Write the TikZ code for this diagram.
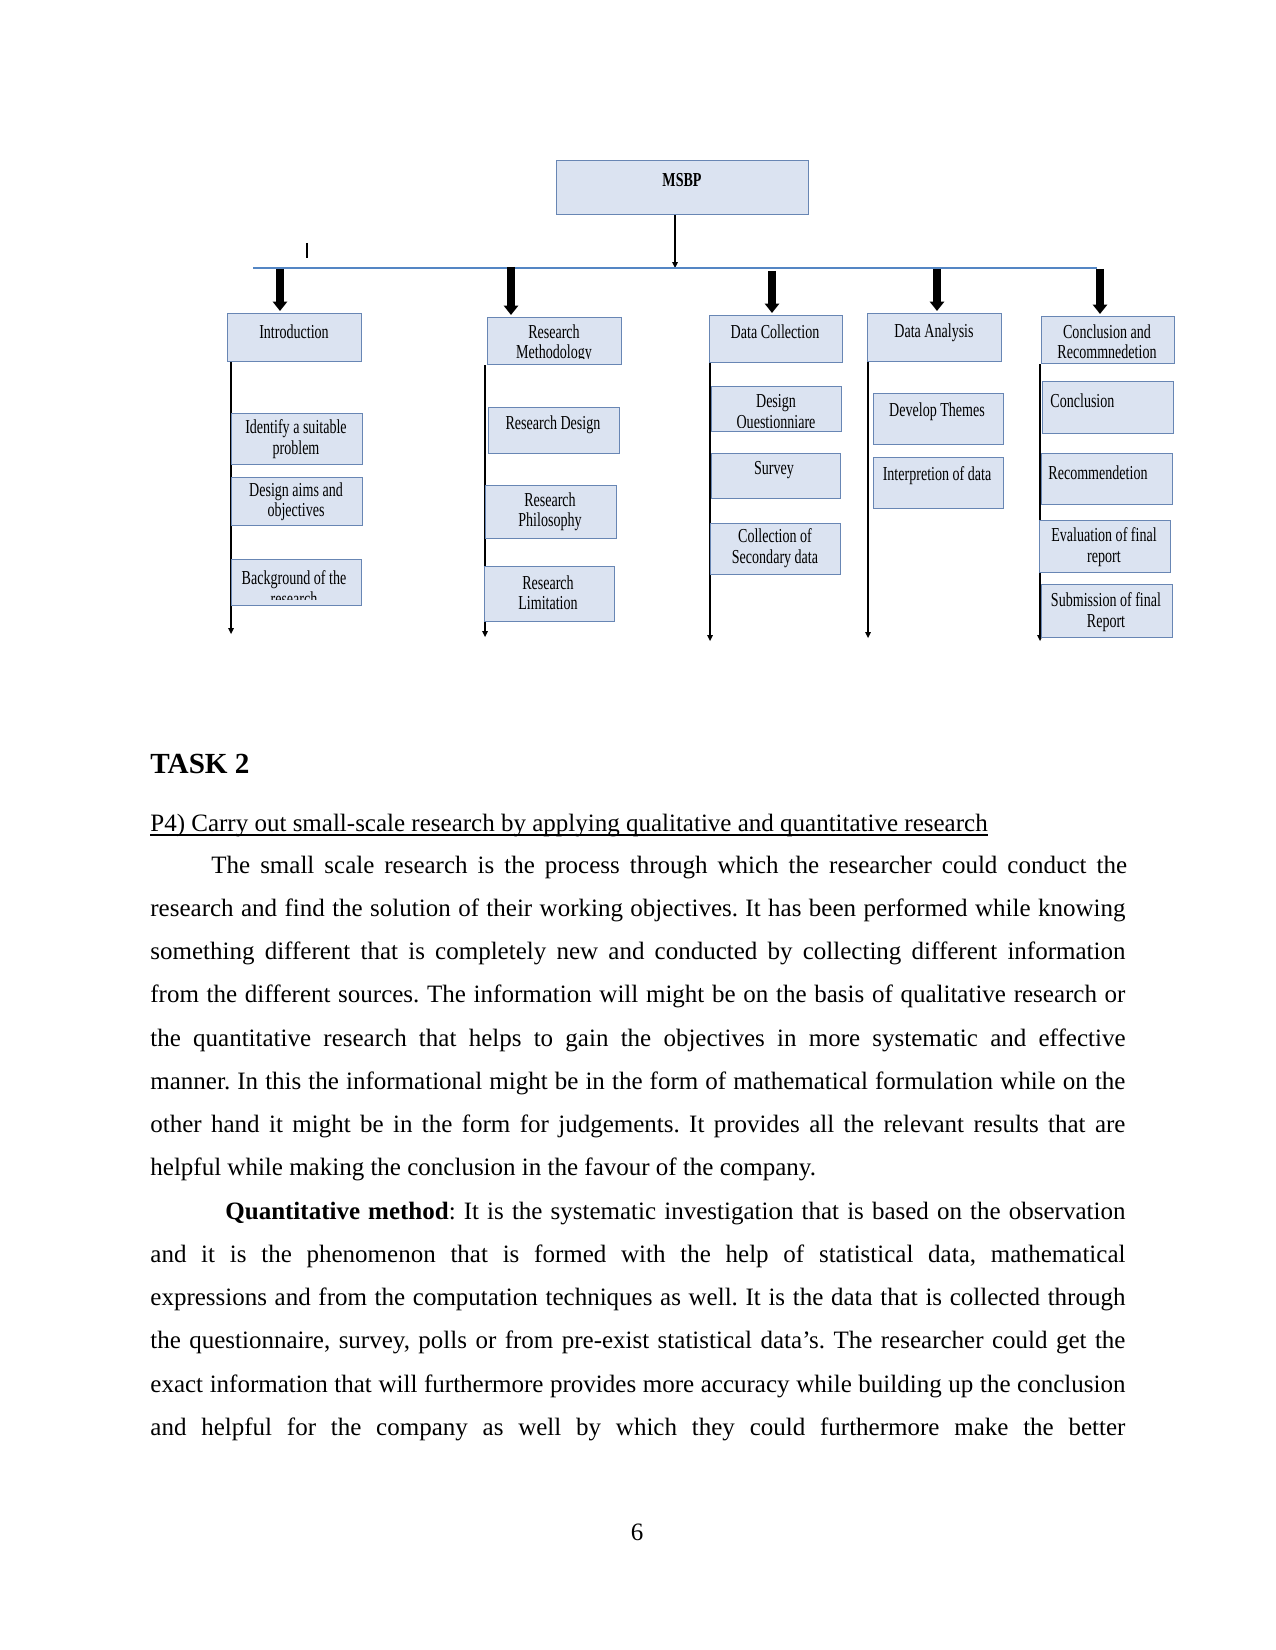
\documentclass[tikz,border=0pt]{standalone}
\usepackage{fontspec}
\setmainfont{Liberation Serif}
\newfontfamily\chartfont[FakeStretch=0.71]{Liberation Serif}
\usetikzlibrary{arrows.meta}
\frenchspacing

\definecolor{boxfill}{RGB}{219,227,241}
\definecolor{boxline}{RGB}{104,134,180}
\definecolor{barline}{RGB}{84,134,196}

\begin{document}
\begin{tikzpicture}[x=0.48pt, y=-0.48pt, >=Stealth,
    box/.style={draw=boxline, fill=boxfill, line width=0.7pt, inner sep=0pt, anchor=north west},
    sz/.style 2 args={minimum width={(#1)*0.48pt}, minimum height={(#2)*0.48pt}},
    lbl/.style={font=\chartfont\fontsize{9.5}{9.8}\selectfont, align=center, inner sep=0pt},
    lblb/.style={font=\chartfont\bfseries\fontsize{9.5}{9.8}\selectfont, inner sep=0pt},
    fat/.style={line width=3.4pt, -{Triangle[length=4.4pt,width=7pt,line width=0pt]}, shorten >=1pt},
    spine/.style={line width=0.6pt, -{Triangle[length=2.8pt,width=2.8pt,line width=0pt]}},
    body/.style={anchor=base west, inner sep=0pt, font=\fontsize{12}{14}\selectfont}]

    \fill[white] (0,0) rectangle (1275,1650);
    \useasboundingbox (0,0) rectangle (1275,1650);

    % top box and bar
    \node[box, sz={252}{54}] (msbp) at (556,160) {};
    \node[lblb] (msbp-t) at (682,180) {MSBP};
    \coordinate (hub) at (675,268);
    \coordinate (barL) at (253,268);
    \coordinate (barR) at (1097,268);
    \draw[line width=0.6pt, -{Triangle[length=2.8pt,width=2.8pt,line width=0pt]}] (msbp.south -| hub) -- (hub);
    \draw[barline, line width=0.6pt] (barL) -- (barR);
    \coordinate (mk) at (307,243);
    \draw[line width=0.5pt] (mk) -- ++(0,15);

    % main headings
    \node[box, sz={134}{48}] (intro) at (227,313) {};
    \node[box, sz={134}{47}] (meth) at (487,317) {};
    \node[box, sz={133}{47}] (coll) at (709,315) {};
    \node[box, sz={134}{48}] (anal) at (867,313) {};
    \node[box, sz={133}{47}] (conc) at (1041,316) {};

    \node[lbl] (intro-t) at (294,332) {Introduction};
    \begin{scope}
        \clip (meth.north west) rectangle ([yshift=3.4pt]meth.south east);
        \node[lbl] (meth-t) at (554,344) {Research\\Methodology};
    \end{scope}
    \node[lbl] (coll-t) at (775,332) {Data Collection};
    \node[lbl] (anal-t) at (934,333) {Data Analysis};
    \node[lbl] (conc-t) at (1107,342) {Conclusion and\\Recommnedetion};

    % thick arrows from the bar
    \coordinate (fa1) at (280,269);
    \coordinate (fa2) at (511,267);
    \coordinate (fa3) at (772,271);
    \coordinate (fa4) at (937,269);
    \coordinate (fa5) at (1100,269);
    \draw[fat] (fa1) -- (fa1 |- intro.north);
    \draw[fat] (fa2) -- (fa2 |- meth.north);
    \draw[fat] (fa3) -- (fa3 |- coll.north);
    \draw[fat] (fa4) -- (fa4 |- anal.north);
    \draw[fat] (fa5) -- (fa5 |- conc.north);

    % spines
    \coordinate (sp1) at (231,634);
    \coordinate (sp2) at (485,637);
    \coordinate (sp3) at (710,641);
    \coordinate (sp4) at (868,638);
    \coordinate (sp5) at (1040,641);
    \draw[spine] (intro.south -| sp1) -- (sp1);
    \draw[spine] (meth.south -| sp2) -- (sp2);
    \draw[spine] (coll.south -| sp3) -- (sp3);
    \draw[spine] (anal.south -| sp4) -- (sp4);
    \draw[spine] (conc.south -| sp5) -- (sp5);

    % introduction
    \node[box, sz={131}{51}] (prob) at (231,413) {};
    \node[box, sz={131}{48}] (aims) at (231,477) {};
    \node[box, sz={130}{46}] (back) at (231,559) {};
    \node[lbl] (prob-t) at (296,439) {Identify a suitable\\problem};
    \node[lbl] (aims-t) at (296,502) {Design aims and\\objectives};
    \begin{scope}
        \clip (back.north west) rectangle ([yshift=3.4pt]back.south east);
        \node[lbl] (back-t) at (294,588) {Background of the\\research};
    \end{scope}

    % methodology
    \node[box, sz={131}{46}] (design) at (488,407) {};
    \node[box, sz={131}{53}] (phil) at (485,485) {};
    \node[box, sz={130}{55}] (lim) at (484,566) {};
    \node[lbl] (design-t) at (553,425) {Research Design};
    \node[lbl] (phil-t) at (550,512) {Research\\Philosophy};
    \node[lbl] (lim-t) at (548,593) {Research\\Limitation};

    % data collection
    \node[box, sz={130}{45}] (quest) at (711,386) {};
    \node[box, sz={129}{45}] (survey) at (711,453) {};
    \node[box, sz={130}{51}] (second) at (710,523) {};
    \begin{scope}
        \clip (quest.north west) rectangle ([yshift=2.4pt]quest.south east);
        \node[lbl] (quest-t) at (776,413) {Design\\Questionniare};
    \end{scope}
    \node[lbl] (survey-t) at (774,470) {Survey};
    \node[lbl] (second-t) at (775,548) {Collection of\\Secondary data};

    % data analysis
    \node[box, sz={130}{51}] (themes) at (873,393) {};
    \node[box, sz={130}{51}] (interp) at (873,457) {};
    \node[lbl] (themes-t) at (937,412) {Develop Themes};
    \node[lbl] (interp-t) at (937,476) {Interpretion of data};

    % conclusion
    \node[box, sz={131}{52}] (c1) at (1042,381) {};
    \node[box, sz={131}{51}] (c2) at (1041,453) {};
    \node[box, sz={131}{52}] (c3) at (1039,520) {};
    \node[box, sz={131}{53}] (c4) at (1041,584) {};
    \node[lbl, anchor=west] (c1-t) at (1050,401) {Conclusion};
    \node[lbl, anchor=west] (c2-t) at (1048,473) {Recommendetion};
    \node[lbl] (c3-t) at (1104,547) {Evaluation of final\\report};
    \node[lbl] (c4-t) at (1106,612) {Submission of final\\Report};

    % page text
    \node[anchor=base west, inner sep=0pt, font=\bfseries\fontsize{14}{16}\selectfont] (task) at (150,773) {TASK 2};
    \node[body] (head) at (150,831) {P4) Carry out small-scale research by applying qualitative and quantitative research};
    \draw[line width=0.55pt] ([yshift=-1.9pt]head.base west) -- ([yshift=-1.9pt]head.base east);

    \node[body] (l0) at (211,873) {\makebox[439.5pt][s]{The small scale research is the process through which the researcher could conduct the}};
    \foreach \n/\txt in {1/{research and find the solution of their working objectives. It has been performed while knowing},
        2/{something different that is completely new and conducted by collecting different information},
        3/{from the different sources. The information will might be on the basis of qualitative research or},
        4/{the quantitative research that helps to gain the objectives in more systematic and effective},
        5/{manner. In this the informational might be in the form of mathematical formulation while on the},
        6/{other hand it might be in the form for judgements. It provides all the relevant results that are}}
        \node[body] (l\n) at (150,{873+\n*43.25}) {\makebox[468pt][s]{\txt}};
    \node[body] (l7) at (150,1175.75) {helpful while making the conclusion in the favour of the company.};
    \node[body] (l8) at (225,1219) {\makebox[432pt][s]{\textbf{Quantitative method}: It is the systematic investigation that is based on the observation}};
    \foreach \n/\txt in {9/{and it is the phenomenon that is formed with the help of statistical data, mathematical},
        10/{expressions and from the computation techniques as well. It is the data that is collected through},
        11/{the questionnaire, survey, polls or from pre-exist statistical data’s. The researcher could get the},
        12/{exact information that will furthermore provides more accuracy while building up the conclusion},
        13/{and helpful for the company as well by which they could furthermore make the better}}
        \node[body] (l\n) at (150,{873+\n*43.25}) {\makebox[468pt][s]{\txt}};

    \node[anchor=base, inner sep=0pt, font=\fontsize{12}{14}\selectfont] (pg) at (637,1540) {6};
\end{tikzpicture}
\end{document}
